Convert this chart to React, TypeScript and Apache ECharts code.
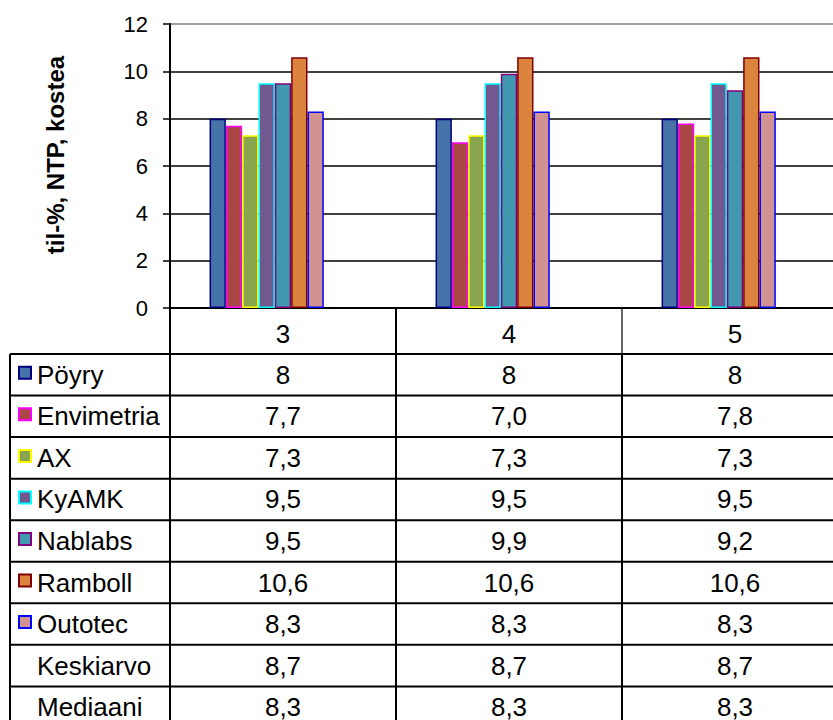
import React, { useEffect, useRef } from 'react';
import * as echarts from 'echarts';

const categories = ['3', '4', '5'];
const seriesNames = ['Pöyry', 'Envimetria', 'AX', 'KyAMK', 'Nablabs', 'Ramboll', 'Outotec', 'Keskiarvo', 'Mediaani'];
const poyry = [8, 8, 8];
const envimetria = [7.7, 7.0, 7.8];
const ax = [7.3, 7.3, 7.3];
const kyamk = [9.5, 9.5, 9.5];
const nablabs = [9.5, 9.9, 9.2];
const ramboll = [10.6, 10.6, 10.6];
const outotec = [8.3, 8.3, 8.3];
const keskiarvo = [8.7, 8.7, 8.7];
const mediaani = [8.3, 8.3, 8.3];
const seriesValues = [poyry, envimetria, ax, kyamk, nablabs, ramboll, outotec, keskiarvo, mediaani];
const decimals = [0, 1, 1, 1, 1, 1, 1, 1, 1];
const yTicks = [0, 2, 4, 6, 8, 10, 12];
const yTitle = 'til-%, NTP, kostea';

const fills = ['#4672A8', '#AA4644', '#89A54E', '#71588F', '#4198AF', '#DB843D', '#D09392', '', ''];
const borders = ['#000080', '#FF00FF', '#FFFF00', '#00FFFF', '#800080', '#800000', '#0000FF', '', ''];

const FONT = '"Liberation Sans", Arial, sans-serif';

function fmt(v: number, d: number) {
  return v.toFixed(d).replace('.', ',');
}

export default function App() {
  const ref = useRef<HTMLDivElement>(null);
  useEffect(() => {
    if (!ref.current) return;
    const chart = echarts.init(ref.current, null, { renderer: 'svg' });
    const gridTop = 24;
    const gridH = 284;
    const gridLeft = 170;
    const gridW = 678;
    const option: any = {
      animation: false,
      backgroundColor: '#fff',
      grid: { left: gridLeft, top: gridTop, width: gridW, height: gridH, containLabel: false },
      xAxis: {
        type: 'category',
        data: categories,
        axisLine: { show: true, lineStyle: { color: '#000', width: 2 } },
        axisTick: { show: false },
        axisLabel: { color: '#000', fontSize: 26, fontFamily: FONT, margin: 13 },
        splitLine: { show: false },
      },
      yAxis: {
        type: 'value',
        min: yTicks[0],
        max: yTicks[yTicks.length - 1],
        interval: yTicks[1] - yTicks[0],
        axisLine: { show: true, lineStyle: { color: '#000', width: 2 } },
        axisTick: { show: true, inside: false, length: 7, lineStyle: { color: '#000', width: 1.5 } },
        axisLabel: { color: '#000', fontSize: 22, fontFamily: FONT, margin: 22 },
        splitLine: {
          show: true,
          lineStyle: { color: ['#000', '#000', '#000', '#000', '#000', '#000', '#808080'], width: 1.5 },
        },
      },
      series: seriesNames.map((name, i) => ({
        name,
        type: 'bar',
        data: seriesValues[i],
        barGap: '0%',
        barCategoryGap: '35%',
        silent: !fills[i],
        itemStyle: fills[i]
          ? { color: fills[i], borderColor: borders[i], borderWidth: 1.5 }
          : { color: 'rgba(0,0,0,0)', borderWidth: 0 },
      })),
    };
    chart.setOption(option);

    // Data table drawn below the plot, columns aligned to the category axis
    const centers = categories.map((_, i) => chart.convertToPixel({ xAxisIndex: 0 }, i) as number);
    const band = centers.length > 1 ? centers[1] - centers[0] : gridW;
    const bounds = [centers[0] - band / 2, ...centers.map((c) => c + band / 2)];
    const gridBottom = gridTop + gridH;
    const headerBottom = 354;
    const rowH = 41.55;
    const tableLeft = 10;
    const tableRight = bounds[bounds.length - 1];
    const tableBottom = headerBottom + rowH * seriesNames.length;
    const lineStyle = { stroke: '#000', lineWidth: 2 };
    const g: any[] = [];

    g.push({
      type: 'text',
      x: 55,
      y: 155,
      rotation: Math.PI / 2,
      style: { text: yTitle, font: `bold 24px ${FONT}`, fill: '#000', align: 'center', verticalAlign: 'middle' },
    });

    // vertical lines
    bounds.forEach((bx, i) => {
      g.push({
        type: 'line',
        shape: { x1: bx, y1: gridBottom, x2: bx, y2: headerBottom },
        style: { ...lineStyle, stroke: i === 2 ? '#666' : '#000' },
      });
      g.push({
        type: 'line',
        shape: { x1: bx, y1: headerBottom, x2: bx, y2: tableBottom },
        style: lineStyle,
      });
    });
    g.push({ type: 'line', shape: { x1: tableLeft, y1: headerBottom, x2: tableLeft, y2: tableBottom }, style: lineStyle });
    // horizontal lines
    for (let r = 0; r <= seriesNames.length; r++) {
      const y = headerBottom + r * rowH;
      g.push({ type: 'line', shape: { x1: tableLeft, y1: y, x2: tableRight, y2: y }, style: lineStyle });
    }
    // rows
    seriesNames.forEach((name, r) => {
      const cy = headerBottom + r * rowH + rowH / 2;
      if (fills[r]) {
        g.push({
          type: 'rect',
          shape: { x: 19, y: cy - 8, width: 12, height: 12 },
          style: { fill: fills[r], stroke: borders[r], lineWidth: 2 },
        });
      }
      g.push({
        type: 'text',
        x: 37,
        y: cy,
        style: { text: name, font: `26px ${FONT}`, fill: '#000', align: 'left', verticalAlign: 'middle' },
      });
      seriesValues[r].forEach((v, c) => {
        g.push({
          type: 'text',
          x: centers[c],
          y: cy,
          style: { text: fmt(v, decimals[r]), font: `26px ${FONT}`, fill: '#000', align: 'center', verticalAlign: 'middle' },
        });
      });
    });

    chart.setOption({ graphic: g });
    return () => chart.dispose();
  }, []);
  return (
    <div style={{ position: 'absolute', left: 0, top: 0, width: 833, height: 720, overflow: 'hidden' }}>
      <div ref={ref} style={{ width: 870, height: 740 }} />
    </div>
  );
}
